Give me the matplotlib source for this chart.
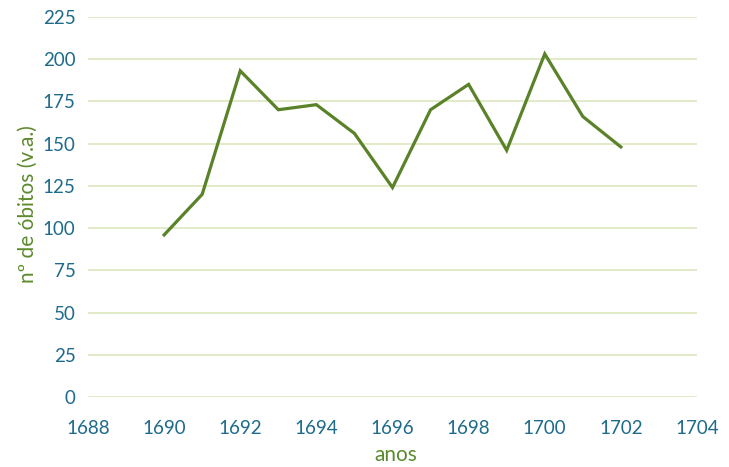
import matplotlib
matplotlib.use("Agg")
import matplotlib.pyplot as plt

years = [1690, 1691, 1692, 1693, 1694, 1695, 1696, 1697, 1698, 1699, 1700, 1701, 1702]
deaths = [96, 120, 193, 170, 173, 156, 124, 170, 185, 146, 203, 166, 148]
x_ticks = [1688, 1690, 1692, 1694, 1696, 1698, 1700, 1702, 1704]
y_ticks = [0, 25, 50, 75, 100, 125, 150, 175, 200, 225]

plt.rcParams['font.family'] = ['Lato', 'DejaVu Sans']

tick_color = '#1d6a8a'
label_color = '#5b8a2b'
line_color = '#5a8228'
grid_color = '#dde8bf'

fig = plt.figure(figsize=(7.29, 4.67), dpi=100)
ax = fig.add_axes([88/729, 1-397.3/467, (697-88)/729, (397.3-16.7)/467])

ax.plot(years, deaths, color=line_color, linewidth=2.3, solid_joinstyle='miter')
ax.set_xlim(1688, 1704)
ax.set_ylim(0, 225)
ax.set_xticks(x_ticks)
ax.set_yticks(y_ticks)
ax.set_xticklabels([str(v) for v in x_ticks])
ax.set_yticklabels([str(v) for v in y_ticks])
ax.yaxis.grid(True, color=grid_color, linewidth=1.2)
ax.set_axisbelow(True)
for s in ax.spines.values():
    s.set_visible(False)
ax.tick_params(axis='both', length=0, labelsize=13.5, colors=tick_color)
ax.tick_params(axis='y', pad=9)
ax.tick_params(axis='x', pad=16)

fig.text(396/729, 1-455/467, 'anos', ha='center', va='center', color=label_color, fontsize=15)
fig.text(28/729, 1-204/467, 'nº de óbitos (v.a.)', ha='center', va='center', rotation=90,
         color=label_color, fontsize=15)

fig.savefig('out.png', dpi=100)
